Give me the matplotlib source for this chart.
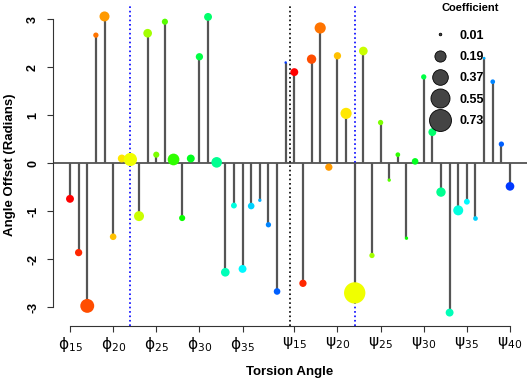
import colorsys
import numpy as np
import matplotlib
matplotlib.use("Agg")
import matplotlib.pyplot as plt
from matplotlib.lines import Line2D

plt.rcParams['font.family'] = ['Liberation Sans', 'DejaVu Sans']
plt.rcParams['axes.unicode_minus'] = False

# torsion angles: phi15..phi40 then psi15..psi40
angle_names = ['phi%d' % n for n in range(15, 41)] + ['psi%d' % n for n in range(15, 41)]

offsets = [-0.74, -1.86, -2.97, 2.67, 3.06, -1.53, 0.10, 0.08, -1.10, 2.71,
           0.18, 2.95, 0.08, -1.14, 0.10, 2.22, 3.05, 0.02, -2.27, -0.88,
           -2.20, -0.89, -0.77, -1.28, -2.67, 2.10,
           1.90, -2.50, 2.17, 2.82, -0.08, 2.24, 1.04, -2.70, 2.34, -1.92,
           0.85, -0.35, 0.18, -1.56, 0.04, 1.80, 0.65, -0.60, -3.11, -0.98,
           -0.80, -1.15, 2.19, 1.70, 0.40, -0.48]

coefs = [0.10, 0.085, 0.31, 0.045, 0.16, 0.07, 0.10, 0.28, 0.16, 0.12,
         0.06, 0.06, 0.22, 0.06, 0.10, 0.085, 0.10, 0.18, 0.12, 0.055,
         0.10, 0.07, 0.018, 0.045, 0.07, 0.01,
         0.10, 0.085, 0.14, 0.20, 0.085, 0.085, 0.20, 0.73, 0.12, 0.045,
         0.045, 0.018, 0.035, 0.018, 0.07, 0.045, 0.10, 0.14, 0.10, 0.16,
         0.055, 0.035, 0.012, 0.035, 0.045, 0.12]

tick_names = ['phi15', 'phi20', 'phi25', 'phi30', 'phi35',
              'psi15', 'psi20', 'psi25', 'psi30', 'psi35', 'psi40']
blue_lines = ['phi22', 'psi22']
legend_coefs = [0.01, 0.19, 0.37, 0.55, 0.73]

def tex(name):
    return r'$\mathrm{\%s}_{%s}$' % (name[:3], name[3:])

x = np.arange(len(angle_names))
# rainbow colour ramp, restarting for the psi block
n_half = 26
colors = [colorsys.hsv_to_rgb(0.63 * (i % n_half) / (n_half - 1), 1, 1) for i in x]
scale = 324  # marker area per unit coefficient (points^2)

fig = plt.figure(figsize=(5.29, 3.79), dpi=100)
ax = fig.add_axes([53/529, 1 - 325.7/379, 474/529, 321.7/379])

ax.axhline(0, color='#444444', lw=1.2, zorder=1)
ax.vlines(x, 0, offsets, color='#555555', lw=1.6, zorder=2)
ax.axvline(n_half - 0.5, color='black', ls=':', lw=1.2, zorder=1.5)
for b in blue_lines:
    ax.axvline(angle_names.index(b), color='blue', ls=':', lw=1.2, zorder=1.5)
ax.scatter(x, offsets, s=np.array(coefs) * scale, c=colors, linewidths=0, zorder=3)

ax.set_xlim(-1.97, 52.97)
ax.set_ylim(-3.383, 3.319)
for s in ['top', 'right']:
    ax.spines[s].set_visible(False)
ax.spines['left'].set_bounds(-3, 3)
ax.spines['bottom'].set_bounds(0, 51)
for s in ['left', 'bottom']:
    ax.spines[s].set_color('#333333')

ax.set_yticks([-3, -2, -1, 0, 1, 2, 3])
ax.set_yticklabels(['-3', '-2', '-1', '0', '1', '2', '3'], rotation=90, va='center',
                   fontweight='bold', fontsize=9)
ax.set_xticks([angle_names.index(t) for t in tick_names])
ax.set_xticklabels([tex(t) for t in tick_names], fontsize=11)
ax.tick_params(axis='both', length=4, color='#333333')
ax.tick_params(axis='y', pad=6)
ax.tick_params(axis='x', pad=3)

ax.set_xlabel('Torsion Angle', fontweight='bold', fontsize=9.5, labelpad=8)
ax.set_ylabel('Angle Offset (Radians)', fontweight='bold', fontsize=9.5, labelpad=8)

# size legend
handles = [Line2D([], [], ls='', marker='o', markersize=18.5 * np.sqrt(c),
                  markerfacecolor='#444444', markeredgecolor='black', markeredgewidth=0.6)
           for c in legend_coefs]
ax.legend(handles, ['%.2f' % c for c in legend_coefs],
          frameon=False, loc='upper left', bbox_to_anchor=(0.79, 0.92),
          labelspacing=0.75, handletextpad=0.6, borderaxespad=0, borderpad=0,
          prop={'weight': 'bold', 'size': 9})
ax.text(0.88, 0.988, 'Coefficient', transform=ax.transAxes, ha='center', va='center',
        fontweight='bold', fontsize=8)

fig.savefig('out.png', dpi=100)
